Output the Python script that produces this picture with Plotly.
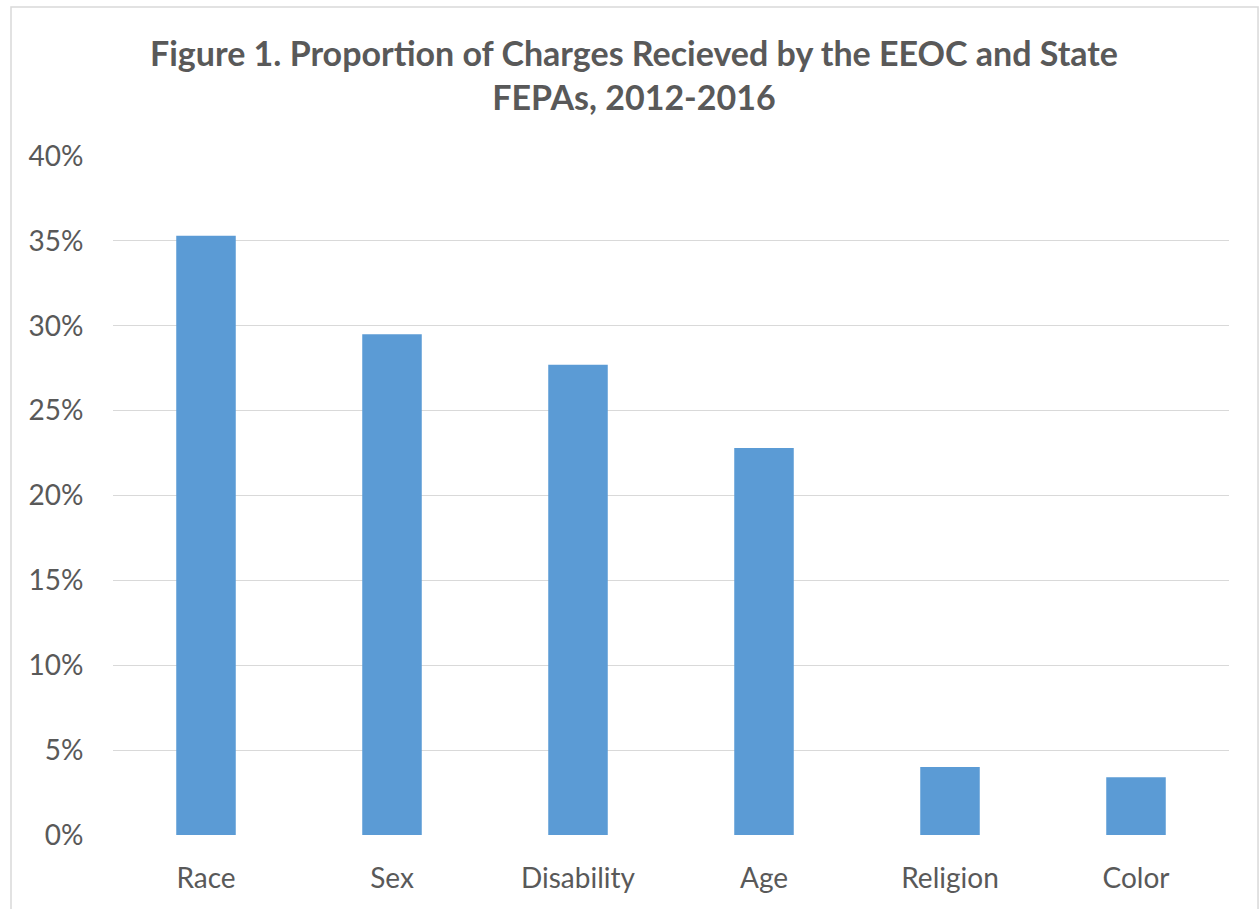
import plotly.graph_objects as go

categories = ["Race", "Sex", "Disability", "Age", "Religion", "Color"]
values = [0.353, 0.295, 0.277, 0.228, 0.040, 0.034]
tick_vals = [0, 0.05, 0.10, 0.15, 0.20, 0.25, 0.30, 0.35, 0.40]
tick_text = ["0%", "5%", "10%", "15%", "20%", "25%", "30%", "35%", "40%"]
title_text = "Figure 1. Proportion of Charges Recieved by the EEOC and State<br>FEPAs, 2012-2016"

fig = go.Figure(
    go.Bar(x=categories, y=values, marker=dict(color="#5B9BD5", line=dict(width=0)),
           hoverinfo="x+y")
)

fig.update_layout(
    width=1259, height=909,
    margin=dict(l=113, r=30, t=156, b=74, autoexpand=False),
    paper_bgcolor="white", plot_bgcolor="white",
    bargap=0.68,
    showlegend=False,
    font=dict(family="Lato", size=28, color="#595959"),
    xaxis=dict(showgrid=False, showline=False, zeroline=False,
               ticks="outside", ticklen=18, tickcolor="rgba(0,0,0,0)",
               tickfont=dict(family="Lato", size=28, color="#595959")),
    yaxis=dict(range=[0, 0.4], tickvals=tick_vals, ticktext=tick_text,
               showgrid=True, gridcolor="#D9D9D9", gridwidth=1.3,
               zeroline=False, showline=False,
               ticks="outside", ticklen=23, tickcolor="rgba(0,0,0,0)",
               tickfont=dict(family="Lato", size=28, color="#595959")),
    annotations=[dict(text=title_text, xref="paper", yref="paper",
                      x=0.467, y=1.1193, xanchor="center", yanchor="middle",
                      showarrow=False, align="center",
                      font=dict(family="Lato", size=34, color="#595959", weight="bold"))],
    shapes=[dict(type="rect", xref="paper", yref="paper",
                 x0=-0.0914, x1=1.026, y0=-0.2, y1=1.2194,
                 line=dict(color="#D9D9D9", width=1.5), fillcolor="rgba(0,0,0,0)",
                 layer="below")],
)

fig.write_html("out.html")
